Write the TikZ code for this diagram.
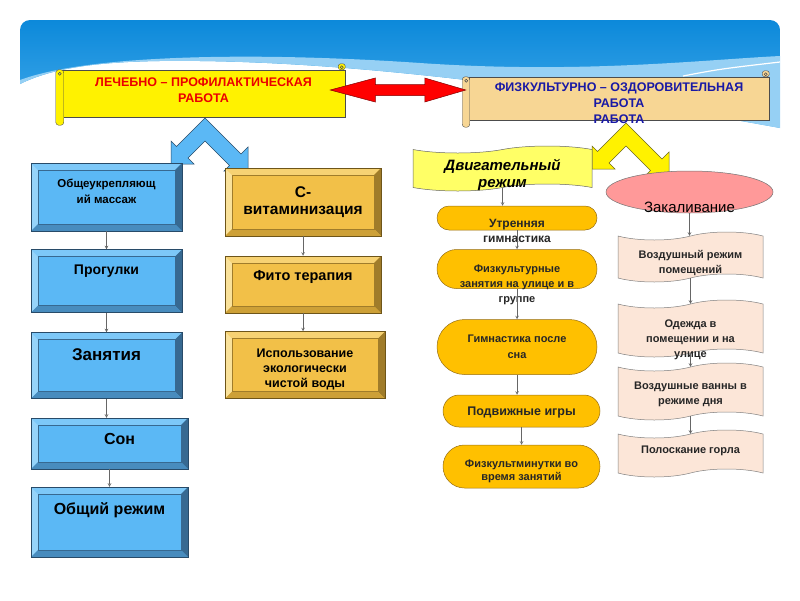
\documentclass[tikz,border=0pt]{standalone}
\usepackage{fontspec}
\setmainfont{Liberation Sans}
\usetikzlibrary{calc,shapes.misc,shapes.symbols,shapes.geometric}

\definecolor{skyA}{RGB}{12,137,218}
\definecolor{skyB}{RGB}{70,172,236}
\definecolor{skyband}{RGB}{150,208,244}
\definecolor{boxblue}{RGB}{91,184,245}
\definecolor{bluetop}{RGB}{125,200,248}
\definecolor{blueleft}{RGB}{150,212,250}
\definecolor{blueright}{RGB}{55,105,145}
\definecolor{bluebot}{RGB}{72,140,190}
\definecolor{blueedge}{RGB}{40,75,105}
\definecolor{boxgold}{RGB}{242,192,72}
\definecolor{goldtop}{RGB}{247,210,115}
\definecolor{goldleft}{RGB}{250,226,155}
\definecolor{goldright}{RGB}{160,124,42}
\definecolor{goldbot}{RGB}{205,160,55}
\definecolor{goldedge}{RGB}{110,85,25}
\definecolor{pillfill}{RGB}{255,192,0}
\definecolor{pilledge}{RGB}{150,110,20}
\definecolor{tapefill}{RGB}{252,230,216}
\definecolor{zakfill}{RGB}{255,153,153}
\definecolor{flagfill}{RGB}{255,255,102}
\definecolor{scrollwheat}{RGB}{247,214,148}
\definecolor{titleblue}{RGB}{25,25,165}
\definecolor{titlered}{RGB}{235,0,0}

\newcommand{\fsz}[2]{\fontsize{#1}{#2}\selectfont}
\newcommand{\boxtxt}[2][0pt]{\smash{\raisebox{#1}{\begin{tabular}{@{}c@{}}#2\end{tabular}}}}

\tikzset{
  bevel/.style n args={4}{path picture={
    \coordinate (bnw) at (path picture bounding box.north west);
    \coordinate (bne) at (path picture bounding box.north east);
    \coordinate (bsw) at (path picture bounding box.south west);
    \coordinate (bse) at (path picture bounding box.south east);
    \fill[#1] (bnw) -- (bne) -- ([shift={(-7pt,-7pt)}]bne) -- ([shift={(7pt,-7pt)}]bnw) -- cycle;
    \fill[#2] (bnw) -- ([shift={(7pt,-7pt)}]bnw) -- ([shift={(7pt,7pt)}]bsw) -- (bsw) -- cycle;
    \fill[#3] (bne) -- ([shift={(-7pt,-7pt)}]bne) -- ([shift={(-7pt,7pt)}]bse) -- (bse) -- cycle;
    \fill[#4] (bsw) -- ([shift={(7pt,7pt)}]bsw) -- ([shift={(-7pt,7pt)}]bse) -- (bse) -- cycle;
    \draw[#3, line width=0.4pt] ([shift={(7pt,-7pt)}]bnw) rectangle ([shift={(-7pt,7pt)}]bse);
  }},
  bluebox/.style={draw=blueedge, fill=boxblue, line width=0.5pt, inner sep=0pt,
    bevel={bluetop}{blueleft}{blueright}{bluebot}},
  goldbox/.style={draw=goldedge, fill=boxgold, line width=0.5pt, inner sep=0pt,
    bevel={goldtop}{goldleft}{goldright}{goldbot}},
  pill/.style={rounded rectangle, draw=pilledge, fill=pillfill, line width=0.5pt,
    inner sep=0pt, text=black!85},
  tapebox/.style={tape, draw=black!50, fill=tapefill, line width=0.5pt, inner sep=0pt,
    tape bend height=8pt, text=black!85, font=\fsz{11}{15}\bfseries},
  scroll/.style={draw=black!70, line width=0.5pt, inner sep=0pt},
  conn/.style={draw=black!60, line width=0.6pt, -stealth},
  chevron/.pic={
    \filldraw[pic actions] (0,0) -- (36,36) -- (43,29) -- (43,53) -- (19,53) -- (24.5,47.5)
      -- (0,23) -- (-17,40) -- (-11,46) -- (-34,46) -- (-34,23) -- (-28.5,28.5) -- cycle;
  },
}

\begin{document}
\begin{tikzpicture}[x=1pt,y=-1pt]
\useasboundingbox (0,0) rectangle (800,600);

% sky band
\shade[top color=skyA, bottom color=skyB] (20,84) [rounded corners=10pt] -- (20,20) -- (780,20)
  [sharp corners] -- (780,128) .. controls (600,95) and (380,63) .. (200,61)
  .. controls (120,60) and (60,64) .. (20,84) -- cycle;
\fill[skyband] (20,80) .. controls (90,54) and (260,52) .. (420,63)
  .. controls (580,74) and (700,60) .. (780,56) -- (780,128)
  .. controls (600,95) and (380,63) .. (200,61) .. controls (120,60) and (60,64) .. (20,84) -- cycle;
\draw[white, line width=1.2pt] (683,76) .. controls (720,69) .. (780,62);

% chevrons
\pic[fill=boxblue, draw=blueedge, line width=0.5pt] at (205,118) {chevron};
\pic[fill=yellow, draw=olive!70!black, line width=0.5pt] at (626,123) {chevron};

% banners
\node[scroll, fill=yellow, minimum width=283, minimum height=47, text=titlered,
  font=\fsz{12.5}{16.5}\bfseries] (lech) at (203.5,93.5)
  {\boxtxt[-0.9pt]{ЛЕЧЕБНО – ПРОФИЛАКТИЧЕСКАЯ\\РАБОТА}};
\filldraw[fill=yellow, draw=black!70, rounded corners=3] ($(lech.north west)+(-6,0)$) rectangle ($(lech.south west)+(2,8)$);
\filldraw[fill=yellow, draw=black!70, rounded corners=2.5] ($(lech.north east)+(-7,-6)$) rectangle (lech.north east);
\draw[black!70] ($(lech.north west)+(-2,4)$) circle (1.5);
\draw[black!70] ($(lech.north east)+(-3.5,-2.5)$) circle (1.5);

\node[scroll, fill=scrollwheat, minimum width=300, minimum height=43, text=titleblue,
  font=\fsz{12.5}{16}\bfseries] (fiz) at (619,98.5)
  {\boxtxt[-9.2pt]{ФИЗКУЛЬТУРНО – ОЗДОРОВИТЕЛЬНАЯ\\РАБОТА\\РАБОТА}};
\filldraw[fill=scrollwheat, draw=black!70, rounded corners=3] ($(fiz.north west)+(-6.5,0)$) rectangle ($(fiz.south west)+(1,7)$);
\filldraw[fill=scrollwheat, draw=black!70, rounded corners=2.5] ($(fiz.north east)+(-7,-6)$) rectangle (fiz.north east);
\draw[black!70] ($(fiz.north west)+(-2.5,4)$) circle (1.5);
\draw[black!70] ($(fiz.north east)+(-3.5,-2.5)$) circle (1.5);

% link between the two kinds of work
\coordinate (lt) at ($(lech.east)+(-15,-3.5)$);
\coordinate (rt) at ($(fiz.west)+(-3,-8.5)$);
\filldraw[fill=red, draw=red!50!black, line width=0.5pt] (lt) -- ++(45,-12) -- ++(0,6.5)
  -- ($(rt)+(-41,-5.5)$) -- ++(0,-6.5) -- (rt) -- ++(-41,12) -- ++(0,-6.5)
  -- ($(lt)+(45,5.5)$) -- ++(0,6.5) -- cycle;

% left column
\node[bluebox, minimum width=151, minimum height=68, font=\fsz{11.5}{16}\bfseries] (m1) at (106.5,197) {\boxtxt[2pt]{Общеукрепляющ\\ий массаж}};
\node[bluebox, minimum width=151, minimum height=63, font=\fsz{14}{17}\bfseries] (m2) at (106.5,281) {\boxtxt[6pt]{Прогулки}};
\node[bluebox, minimum width=151, minimum height=66, font=\fsz{17}{20}\bfseries] (m3) at (106.5,365.5) {\boxtxt[4.5pt]{Занятия}};
\node[bluebox, minimum width=157, minimum height=51, font=\fsz{16}{19}\bfseries] (m4) at (109.5,443.5) {\boxtxt[-1.5pt]{\hspace*{20pt}Сон}};
\node[bluebox, minimum width=157, minimum height=70, font=\fsz{16}{19}\bfseries] (m5) at (109.5,522) {\boxtxt[7.4pt]{Общий режим}};

% middle column
\node[goldbox, minimum width=156, minimum height=68, font=\fsz{15.5}{17.5}\bfseries] (c1) at (303,202) {\boxtxt[-4pt]{С-\\витаминизация}};
\node[goldbox, minimum width=156, minimum height=57, font=\fsz{14.5}{17}\bfseries] (c2) at (303,284.5) {\boxtxt[3.5pt]{Фито терапия}};
\node[goldbox, minimum width=160, minimum height=67, font=\fsz{12.5}{15}\bfseries] (c3) at (305,365) {\boxtxt[-7.4pt]{Использование\\экологически\\чистой воды}};

% motor mode
\node[tapebox, fill=flagfill, draw=black!60, tape bend height=7pt, minimum width=179, minimum height=45,
  text=black, font=\fsz{15}{17}\bfseries\itshape] (dv) at (502.5,168.5) {\boxtxt[-11pt]{Двигательный\\режим}};
\node[pill, minimum width=160, minimum height=24, font=\fsz{12}{15.5}\bfseries] (p1) at (517,218) {\boxtxt[-16.7pt]{Утренняя\\гимнастика}};
\node[pill, minimum width=160, minimum height=39, font=\fsz{11}{15}\bfseries] (p2) at (517,269) {\boxtxt[-18.2pt]{Физкультурные\\занятия на улице и в\\группе}};
\node[pill, minimum width=160, minimum height=55, font=\fsz{11}{16}\bfseries] (p3) at (517,347) {\boxtxt[-2.9pt]{Гимнастика после\\сна}};
\node[pill, minimum width=157, minimum height=32, font=\fsz{12.5}{15}\bfseries] (p4) at (521.5,411) {\boxtxt[-4.4pt]{Подвижные игры}};
\node[pill, minimum width=157, minimum height=43, font=\fsz{11}{13.5}\bfseries] (p5) at (521.5,466.5) {\boxtxt[-7.4pt]{Физкультминутки во\\время занятий}};

% hardening
\node[ellipse, draw=black!55, fill=zakfill, line width=0.5pt, minimum width=167, minimum height=42,
  inner sep=0pt, font=\fsz{15}{18}] (zak) at (689.5,192) {\boxtxt[-20pt]{Закаливание}};
\node[tapebox, minimum width=145, minimum height=50] (t1) at (690.5,257) {\boxtxt[-9.2pt]{Воздушный режим\\помещений}};
\node[tapebox, minimum width=145, minimum height=57] (t2) at (690.5,328.5) {\boxtxt[-14.2pt]{Одежда в\\помещении и на\\улице}};
\node[tapebox, minimum width=145, minimum height=57] (t3) at (690.5,391.5) {\boxtxt[-5.2pt]{Воздушные ванны в\\режиме дня}};
\node[tapebox, minimum width=145, minimum height=47] (t4) at (690.5,453.5) {\boxtxt[-0.2pt]{Полоскание горла}};

\foreach \a/\b in {m1/m2,m2/m3,m3/m4,m4/m5,c1/c2,c2/c3,dv/p1,p1/p2,p2/p3,p3/p4,p4/p5,zak/t1,t1/t2,t2/t3,t3/t4}
  \draw[conn] (\a.south) -- (\a.south |- \b.north);
\end{tikzpicture}
\end{document}
